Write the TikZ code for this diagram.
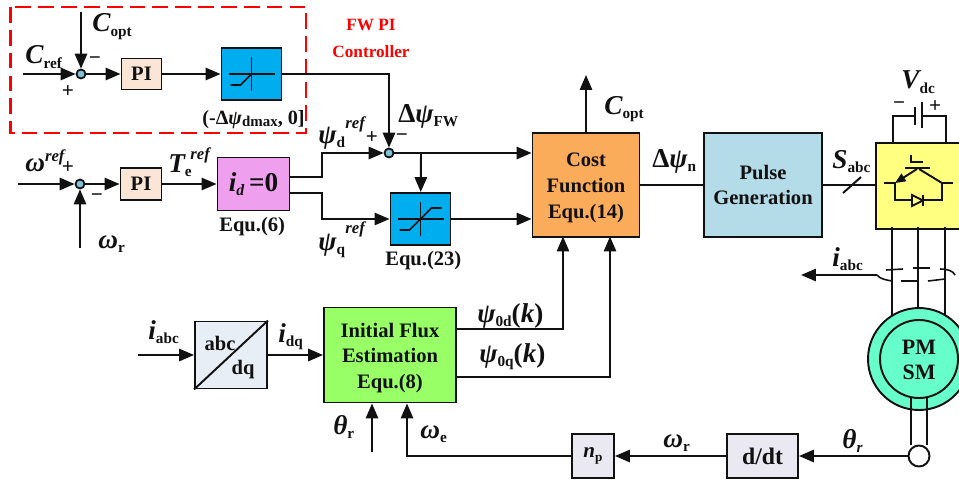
\documentclass[tikz,border=0pt]{standalone}
\usepackage{fontspec}
\setmainfont{Liberation Serif}
\usetikzlibrary{arrows.meta}
\definecolor{ink}{HTML}{111111}
\definecolor{pibox}{HTML}{FBE5D6}
\definecolor{sumdot}{HTML}{7FC4D4}
\definecolor{satblue}{HTML}{00AEEF}
\definecolor{idpink}{HTML}{EE9FEE}
\definecolor{costorange}{HTML}{FBAC5A}
\definecolor{pulseblue}{HTML}{B4DCE8}
\definecolor{invyellow}{HTML}{FFFF80}
\definecolor{dqgray}{HTML}{E8EEF6}
\definecolor{estgreen}{HTML}{99FF66}
\definecolor{motorcyan}{HTML}{66FFCC}
\definecolor{lilac}{HTML}{EAE8F0}
\definecolor{fwred}{HTML}{FF0000}
\newcommand{\vsub}[2]{{\fontsize{15.5}{17}\selectfont\itshape #1}{\fontsize{8.7}{10}\selectfont\raisebox{-0.3em}{#2}}}
\newcommand{\vsup}{{\fontsize{9.5}{11}\selectfont\itshape ref}}
\tikzset{
  blockbox/.style={draw=ink,line width=1.1pt,inner sep=0pt,align=center,font=\fontsize{11.7}{14.6}\selectfont\bfseries},
  boxtext/.style={inner sep=0pt,align=center,font=\fontsize{11.7}{14.6}\selectfont\bfseries},
  sumnode/.style={draw=ink,fill=sumdot,circle,line width=1pt,inner sep=0pt,minimum size=.18cm},
  wire/.style={draw=ink,line width=1.1pt},
  flow/.style={wire,-{Triangle[length=8.5pt,width=7pt]}},
  thinline/.style={draw=ink,line width=.6pt},
  varlabel/.style={anchor=base west,inner sep=0pt,font=\bfseries},
  signlabel/.style={inner sep=0pt,font=\fontsize{12}{14}\selectfont\bfseries}
}
\begin{document}
\begin{tikzpicture}[x=.02cm,y=-.02cm,text=ink]
  \clip (0,0) rectangle (959,483);
  \fill[white] (0,0) rectangle (959,483);

  \draw[fwred,line width=1.2pt,dash pattern=on 9pt off 4pt] (10.5,7) rectangle (306,133);
  \node[align=center,text=fwred,font=\fontsize{9.8}{15.4}\selectfont\bfseries] (fwlabel) at (371,38) {FW PI\\Controller};

  \node[sumnode] (sumc) at (81,74) {};
  \node[blockbox,fill=pibox,minimum width=.8cm,minimum height=.62cm] (pic) at (141.5,74) {PI};
  \node[blockbox,fill=satblue,minimum width=1.2cm,minimum height=1.04cm] (satfw) at (251.5,74) {};
  \coordinate (crefin) at (23,74);
  \coordinate (coptin) at (81,12);
  \draw[flow] (crefin) -- (sumc);
  \draw[flow] (coptin) -- (sumc);
  \draw[flow] (sumc) -- (pic);
  \draw[flow] (pic) -- (satfw);
  \begin{scope}[shift={(satfw.center)}]
    \draw[thinline] (-23,0) -- (23,0);
    \draw[thinline] (0,-17) -- (0,17);
    \draw[wire,line width=.9pt] (-21,11) -- (-11,11) -- (0,0);
  \end{scope}

  \node[sumnode] (sumw) at (80,184) {};
  \node[blockbox,fill=pibox,minimum width=.82cm,minimum height=.64cm] (piw) at (141,184) {PI};
  \node[blockbox,fill=idpink,minimum width=1.44cm,minimum height=1.06cm,font=\fontsize{15.5}{17}\selectfont\bfseries] (idzero) at (253.5,184) {\textit{i}{\fontsize{9}{10}\selectfont\raisebox{-0.3em}{\textit{d}}}\,=0};
  \coordinate (wrefin) at (18,184);
  \coordinate (wrin) at (80,248);
  \draw[flow] (wrefin) -- (sumw);
  \draw[flow] (wrin) -- (sumw);
  \draw[flow] (sumw) -- (piw);
  \draw[flow] (piw) -- (idzero);

  \node[sumnode] (sumd) at (389,153) {};
  \node[blockbox,fill=satblue,minimum width=1.2cm,minimum height=1.04cm] (satq) at (420.5,219) {};
  \node[blockbox,fill=costorange,minimum width=2.14cm,minimum height=2.08cm] (cost) at (586,185) {};
  \node[boxtext] (costtext) at (586,188) {Cost\\Function\\Equ.(14)};
  \node[blockbox,fill=pulseblue,minimum width=2.36cm,minimum height=2.08cm] (pulse) at (763,185) {Pulse\\Generation};
  \node[blockbox,fill=invyellow,anchor=north west,minimum width=2.2cm,minimum height=1.72cm] (inv) at (875,142) {};
  \coordinate (fwcorner) at (389,74);
  \coordinate (dbend) at (322,177);
  \coordinate (qbend) at (322,193);
  \coordinate (branch) at (421,153);
  \coordinate (coptout) at (586,75);
  \draw[flow] (satfw) -- (fwcorner) -- (sumd);
  \draw[flow] (idzero.east |- dbend) -- (dbend) -- (322,153) -- (sumd);
  \draw[flow] (idzero.east |- qbend) -- (qbend) -- (322,219) -- (satq);
  \draw[flow] (sumd) -- (cost.west |- sumd);
  \draw[flow] (branch) -- (satq);
  \draw[flow] (satq.east) -- (cost.west |- satq.east);
  \draw[flow] (cost.north) -- (coptout);
  \draw[wire] (cost) -- (pulse);
  \draw[wire] (pulse.east) -- (inv.west |- pulse.east);
  \draw[wire] (843,193) -- (861,177);
  \begin{scope}[shift={(satq.center)}]
    \draw[thinline] (-23,0) -- (23,0);
    \draw[thinline] (0,-17) -- (0,17);
    \draw[wire,line width=.9pt] (-21,11) -- (-11,11) -- (11,-11) -- (21,-11);
  \end{scope}

  \draw[wire] (893,142) -- (893,116) -- (915,116);
  \draw[wire] (946,142) -- (946,116) -- (922,116);
  \draw[wire] (915,107) -- (915,125);
  \draw[wire] (922,102) -- (922,128);
  \begin{scope}[shift={(918,183)}]
    \draw[wire,-{Triangle[length=6pt,width=5pt]}] (-1,-14) -- (-23,0);
    \draw[wire] (-34,0) -- (-23,0) -- (-23,17) -- (24,17) -- (24,0) -- (35,0);
    \draw[wire] (24,0) -- (1,-14);
    \draw[wire] (-13,-15) -- (12,-15);
    \draw[wire] (-7,-28) -- (-7,-21) -- (5,-21);
    \draw[wire,fill=invyellow] (-6,12) -- (-6,23) -- (5,17.5) -- cycle;
    \draw[wire] (5,12) -- (5,23);
  \end{scope}

  \draw[wire] (892,227) -- (892,330);
  \draw[wire] (918,227) -- (918,320);
  \draw[wire] (945,227) -- (945,330);
  \draw[wire,line width=.9pt] (886,270) -- (903,269);
  \draw[wire,line width=.9pt] (913,268) -- (930,268);
  \draw[wire,line width=.9pt] (940,269) .. controls (948,269) and (953,271) .. (955,275);
  \draw[wire,line width=.9pt] (877,275) .. controls (880,279) and (886,280) .. (892,281);
  \draw[wire,line width=.9pt] (901,281) -- (918,281);
  \draw[wire,line width=.9pt] (928,281) -- (945,279);
  \coordinate (iabcout) at (877,275);
  \coordinate (iabctip) at (801,275);
  \draw[flow] (iabcout) -- (iabctip);

  \draw[wire,fill=motorcyan] (919,359) circle (51);
  \draw[wire] (919,359) circle (39);
  \node[inner sep=0pt,align=center,font=\fontsize{12.5}{14.6}\selectfont\bfseries] (pmsm) at (919,360) {PM\\SM};
  \draw[wire] (911,397) -- (911,445);
  \draw[wire] (927,397) -- (927,445);
  \node[draw=ink,fill=white,circle,line width=1.1pt,inner sep=0pt,minimum size=.42cm] (encoder) at (919,456) {};

  \node[blockbox,fill=dqgray,minimum width=1.44cm,minimum height=1.34cm] (abcdq) at (231,355) {};
  \draw[wire] (abcdq.south west) -- (abcdq.north east);
  \node[boxtext] (abcl) at (220,343) {abc};
  \node[boxtext] (dql) at (243,370) {dq};
  \node[blockbox,fill=estgreen,minimum width=2.64cm,minimum height=1.9cm] (est) at (390,355) {};
  \node[boxtext] (esttext) at (390,358) {Initial Flux\\Estimation\\Equ.(8)};
  \node[blockbox,fill=lilac,minimum width=1.42cm,minimum height=.88cm,font=\fontsize{13.5}{16}\selectfont\bfseries] (ddt) at (762.5,456) {d/dt};
  \node[blockbox,fill=lilac,minimum width=.84cm,minimum height=.88cm] (np) at (593,456) {{\fontsize{12}{14}\selectfont\itshape n}{\fontsize{7.5}{9}\selectfont\raisebox{-0.25em}{p}}};
  \coordinate (iabcin) at (138,355);
  \coordinate (thetain) at (372,452);
  \coordinate (npcorner) at (407,456);
  \draw[flow] (iabcin) -- (abcdq);
  \draw[flow] (abcdq) -- (est);
  \draw[flow] (est.east |- 456,329) -- (563,329) -- (563,236.5);
  \draw[flow] (est.east |- 456,377) -- (610,377) -- (610,236.5);
  \draw[flow] (thetain) -- (thetain |- est.south);
  \draw[flow] (np) -- (npcorner) -- (npcorner |- est.south);
  \draw[flow] (ddt) -- (np);
  \draw[flow] (encoder) -- (ddt);

  \node[varlabel] (lcoptin) at (92,32) {\vsub{C}{opt}};
  \node[varlabel] (lcref) at (25,64) {\vsub{C}{ref}};
  \node[signlabel] (lplusc) at (68,92) {+};
  \node[signlabel] (lminusc) at (95,61) {−};
  \node[varlabel,font=\fontsize{11.5}{14}\selectfont\bfseries] (lsat) at (202,124) {(-Δ\textit{ψ}{\fontsize{8.5}{10}\selectfont\raisebox{-0.2em}{dmax}}, 0]};
  \node[varlabel] (lwref) at (25,171) {{\fontsize{15.5}{17}\selectfont\itshape ω}\raisebox{.55em}{\vsup}};
  \node[signlabel] (lplusw) at (68,168) {+};
  \node[signlabel] (lminusw) at (97,198) {−};
  \node[varlabel] (lte) at (168,172) {\vsub{T}{e}};
  \node[varlabel] (ltesup) at (190,159) {\vsup};
  \node[varlabel,font=\fontsize{11.7}{14}\selectfont\bfseries] (leq6) at (219,231) {Equ.(6)};
  \node[varlabel] (lwr) at (98,248) {\vsub{ω}{r}};
  \node[varlabel] (lpsid) at (318,143) {\vsub{ψ}{d}};
  \node[varlabel] (lpsidsup) at (345,128) {\vsup};
  \node[signlabel] (lplusd) at (372,138) {+};
  \node[signlabel] (lminusd) at (402,138) {−};
  \node[varlabel] (lfw) at (398,122) {{\fontsize{15.5}{17}\selectfont Δ}\vsub{ψ}{FW}};
  \node[varlabel] (lpsiq) at (318,250) {\vsub{ψ}{q}};
  \node[varlabel] (lpsiqsup) at (345,233) {\vsup};
  \node[varlabel,font=\fontsize{11.7}{14}\selectfont\bfseries] (leq23) at (385,265) {Equ.(23)};
  \node[varlabel] (lcoptout) at (604,114) {\vsub{C}{opt}};
  \node[varlabel] (ldpsin) at (652,167) {{\fontsize{15.5}{17}\selectfont Δ}\vsub{ψ}{n}};
  \node[varlabel] (lsabc) at (832,168) {\vsub{S}{abc}};
  \node[varlabel] (lvdc) at (901,89) {\vsub{V}{dc}};
  \node[signlabel] (lminusv) at (899,106) {−};
  \node[signlabel] (lplusv) at (935,107) {+};
  \node[varlabel] (liabcr) at (832,266) {\vsub{i}{abc}};
  \node[varlabel] (lthetar) at (842,448) {{\fontsize{15.5}{17}\selectfont\itshape θ}{\fontsize{8.7}{10}\selectfont\raisebox{-0.3em}{\itshape r}}};
  \node[varlabel] (lwrb) at (663,447) {\vsub{ω}{r}};
  \node[varlabel] (lwe) at (420,438) {\vsub{ω}{e}};
  \node[varlabel] (ltheta) at (333,434) {\vsub{θ}{r}};
  \node[varlabel] (liabcl) at (148,339) {\vsub{i}{abc}};
  \node[varlabel] (lidq) at (278,342) {\vsub{i}{dq}};
  \node[varlabel] (lpsi0d) at (477,322) {\vsub{ψ}{0d}{\fontsize{15.5}{17}\selectfont(\textit{k})}};
  \node[varlabel] (lpsi0q) at (479,362) {\vsub{ψ}{0q}{\fontsize{15.5}{17}\selectfont(\textit{k})}};
\end{tikzpicture}
\end{document}
